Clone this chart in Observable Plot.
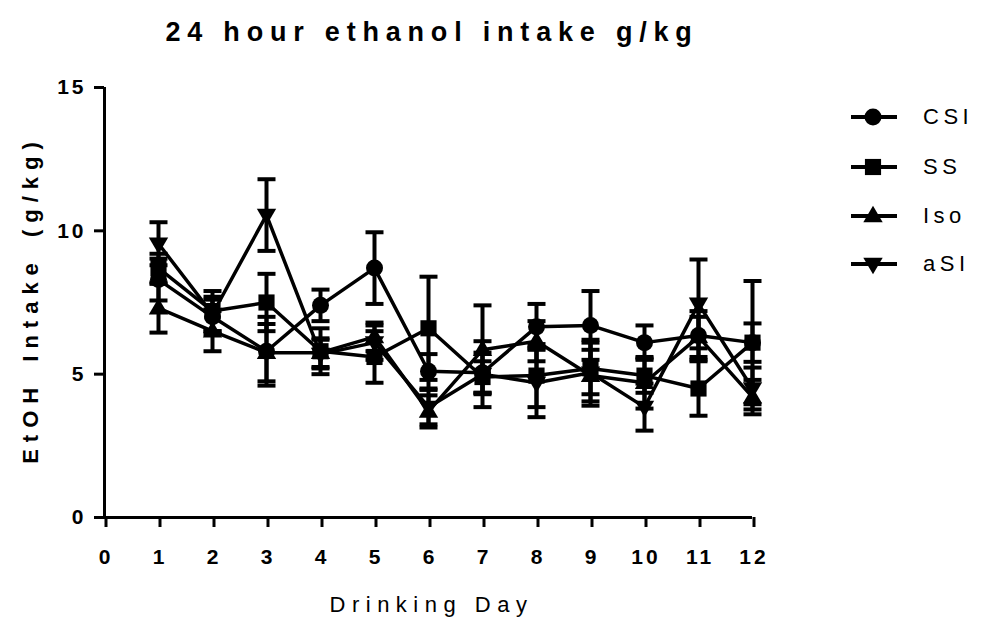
<!DOCTYPE html>
<html><head><meta charset="utf-8">
<script src="https://cdn.jsdelivr.net/npm/d3@7"></script>
<script src="https://cdn.jsdelivr.net/npm/@observablehq/plot@0.6"></script>
<style>
body{margin:0;background:#fff;}
#wrap{position:relative;width:984px;height:621px;font-family:"Liberation Sans",Arial,sans-serif;}
g[aria-label="x-axis tick label"] text, g[aria-label="y-axis tick label"] text{font-weight:bold;letter-spacing:3px;}
.lg{position:absolute;left:851px;height:24px;display:flex;align-items:center;white-space:nowrap;}
.lg span{font-size:22px;letter-spacing:4.5px;margin-left:26px;color:#000;}
</style></head><body><div id="wrap"></div>
<script>
const titleText = "24 hour ethanol intake g/kg";
const yLabel = "EtOH Intake (g/kg)";
const xLabel = "Drinking Day";
const days = [1,2,3,4,5,6,7,8,9,10,11,12];
const xTicks = [0,1,2,3,4,5,6,7,8,9,10,11,12];
const yTicks = [0,5,10,15];
const groups = ["CSI","SS","Iso","aSI"];
const csiMean = [8.3,7.0,5.8,7.4,8.7,5.1,5.05,6.65,6.7,6.1,6.35,6.1];
const csiSem  = [0.73,0.6,1.2,0.55,1.25,0.6,0.7,0.8,1.2,0.6,0.85,0.67];
const ssMean  = [8.7,7.2,7.5,5.8,5.6,6.6,4.9,4.95,5.2,4.95,4.5,6.1];
const ssSem   = [0.5,0.7,1.0,0.8,0.9,1.8,0.55,1.1,0.9,0.6,0.95,2.15];
const isoMean = [7.3,6.5,5.75,5.75,6.3,3.7,5.85,6.15,4.95,4.7,6.3,4.2];
const isoSem  = [0.85,0.7,1.0,0.5,0.5,0.56,1.55,0.7,0.9,0.9,0.7,0.6];
const asiMean = [9.55,7.1,10.55,5.7,6.1,3.85,5.0,4.7,5.05,3.85,7.45,4.5];
const asiSem  = [0.75,0.6,1.25,0.5,0.6,0.6,1.15,1.2,1.15,0.82,1.55,0.73];

const means = [csiMean, ssMean, isoMean, asiMean];
const sems = [csiSem, ssSem, isoSem, asiSem];
const rows = [];
groups.forEach((g, gi) => days.forEach((d, i) => rows.push({group: g, day: d, mean: means[gi][i], sem: sems[gi][i]})));

const rOf = s => Math.sqrt(s / Math.PI);
const circ = d3.symbolCircle;
const sq = {draw(c, s){const r = rOf(s) * 0.95; c.moveTo(-r,-r); c.lineTo(r,-r); c.lineTo(r,r); c.lineTo(-r,r); c.closePath();}};
const triUp = {draw(c, s){const r = rOf(s) * 1.2; c.moveTo(0,-r); c.lineTo(r*0.95, r*0.62); c.lineTo(-r*0.95, r*0.62); c.closePath();}};
const triDown = {draw(c, s){const r = rOf(s) * 1.2; c.moveTo(0,r); c.lineTo(r*0.95, -r*0.62); c.lineTo(-r*0.95, -r*0.62); c.closePath();}};
const cap = {draw(c, s){const r = rOf(s); c.moveTo(-r,0); c.lineTo(r,0);}};
const symbols = [circ, sq, triUp, triDown];

const lo = d => d.mean - d.sem, hi = d => d.mean + d.sem;

const chart = Plot.plot({
  width: 984, height: 621,
  marginLeft: 104, marginRight: 232, marginTop: 87, marginBottom: 104,
  style: {fontFamily: "'Liberation Sans', Arial, sans-serif", fontSize: "21px", color: "black", background: "white"},
  x: {domain: [0, 12]},
  y: {domain: [0, 15]},
  symbol: {domain: groups, range: symbols},
  marks: [
    Plot.ruleX([0], {stroke: "black", strokeWidth: 3}),
    Plot.ruleY([0], {stroke: "black", strokeWidth: 3}),
    Plot.axisX({ticks: xTicks, tickSize: 10, strokeWidth: 3, tickPadding: 22, fontSize: 21, fontWeight: "bold", label: null, tickFormat: d => String(d), dx: 1.5}),
    Plot.axisY({ticks: yTicks, tickSize: 10, strokeWidth: 3, tickPadding: 8, fontSize: 21, fontWeight: "bold", label: null, tickFormat: d => String(d)}),
    Plot.ruleX(rows, {x: "day", y1: lo, y2: hi, stroke: "black", strokeWidth: 4}),
    Plot.dot(rows, {x: "day", y: lo, symbol: cap, r: 9, stroke: "black", strokeWidth: 4, fill: "none"}),
    Plot.dot(rows, {x: "day", y: hi, symbol: cap, r: 9, stroke: "black", strokeWidth: 4, fill: "none"}),
    Plot.line(rows, {x: "day", y: "mean", z: "group", stroke: "black", strokeWidth: 3.5}),
    Plot.dot(rows, {x: "day", y: "mean", symbol: "group", r: 8.5, fill: "black", stroke: "none"}),
    Plot.text([titleText], {text: d => d, frameAnchor: "top", textAnchor: "middle", lineAnchor: "middle", dy: -55, dx: 3.5, fontSize: 27, fontWeight: "bold", fill: "black"}),
    Plot.text([yLabel], {text: d => d, frameAnchor: "left", textAnchor: "middle", lineAnchor: "middle", dx: -74, dy: -3, rotate: -90, fontSize: 22, fontWeight: "bold", fill: "black"}),
    Plot.text([xLabel], {text: d => d, frameAnchor: "bottom", textAnchor: "middle", lineAnchor: "middle", dy: 87, dx: 3, fontSize: 22, fill: "black"})
  ]
});

const wrap = document.getElementById("wrap");
wrap.appendChild(chart);
d3.select(chart).selectAll("text").each(function(){
  const t = this.textContent;
  if (t === titleText) this.style.letterSpacing = "6.8px";
  else if (t === yLabel) { this.style.letterSpacing = "7px"; this.style.wordSpacing = "6px"; }
  else if (t === xLabel) this.style.letterSpacing = "6.5px";
});

const legendY = [117, 167, 216, 264];
groups.forEach((g, i) => {
  const row = document.createElement("div");
  row.className = "lg";
  row.style.top = (legendY[i] - 12) + "px";
  const svg = d3.create("svg").attr("width", 46).attr("height", 24);
  svg.append("line").attr("x1", 0).attr("x2", 46).attr("y1", 12).attr("y2", 12).attr("stroke", "black").attr("stroke-width", 4);
  svg.append("path").attr("transform", "translate(22,12)").attr("d", d3.symbol(symbols[i], Math.PI * 8.5 * 8.5)()).attr("fill", "black");
  row.appendChild(svg.node());
  const sp = document.createElement("span");
  sp.textContent = g;
  row.appendChild(sp);
  wrap.appendChild(row);
});
</script></body></html>
